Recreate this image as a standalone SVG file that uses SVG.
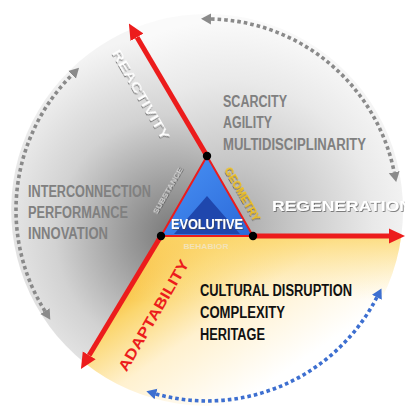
<svg xmlns="http://www.w3.org/2000/svg" width="405" height="407" viewBox="0 0 405 407">
<style>
.gt{font-family:"Liberation Sans Narrow","Liberation Sans",Arial,sans-serif;font-weight:bold;font-size:16px;fill:#808080}
.bt{font-family:"Liberation Sans Narrow","Liberation Sans",Arial,sans-serif;font-weight:bold;font-size:16px;fill:#111}
.red{stroke:#ec1c1c;stroke-width:5;fill:none}
.dotg{stroke:#8a8a8a;stroke-width:3.6;stroke-dasharray:3.6 3;fill:none}
.dotb{stroke:#3d6fd0;stroke-width:3.6;stroke-dasharray:3.6 3;fill:none}
.wl{font-family:"Liberation Sans",Arial,sans-serif;font-weight:bold;fill:#fff}
</style>
<defs>
<radialGradient id="gL" gradientUnits="userSpaceOnUse" cx="175" cy="235" r="200">
<stop offset="0" stop-color="#777"/><stop offset="0.25" stop-color="#9c9c9c"/><stop offset="0.6" stop-color="#d2d2d2"/><stop offset="1" stop-color="#f4f4f4"/>
</radialGradient>
<radialGradient id="gT" gradientUnits="userSpaceOnUse" cx="230" cy="225" r="205">
<stop offset="0" stop-color="#a8a8a8"/><stop offset="0.3" stop-color="#c6c6c6"/><stop offset="0.7" stop-color="#e9e9e9"/><stop offset="1" stop-color="#fafafa"/>
</radialGradient>
<linearGradient id="gY" gradientUnits="userSpaceOnUse" x1="165" y1="236" x2="265" y2="385">
<stop offset="0" stop-color="#f6ad10"/><stop offset="0.25" stop-color="#fbd66e"/><stop offset="0.55" stop-color="#fff1cf"/><stop offset="1" stop-color="#ffffff"/>
</linearGradient>
<linearGradient id="gY2" gradientUnits="userSpaceOnUse" x1="0" y1="236" x2="0" y2="300">
<stop offset="0" stop-color="#fcd870" stop-opacity="0.85"/><stop offset="1" stop-color="#fde8a8" stop-opacity="0"/>
</linearGradient>
<linearGradient id="gB" x1="0" y1="0" x2="1" y2="1">
<stop offset="0" stop-color="#4a94f6"/><stop offset="1" stop-color="#2b68d8"/>
</linearGradient>
<marker id="ar" markerUnits="userSpaceOnUse" viewBox="0 -8 16 16" refX="0" refY="0" markerWidth="16" markerHeight="16" orient="auto">
<path d="M0,-7.5 L16,0 L0,7.5 z" fill="#ec1c1c"/>
</marker>
<marker id="ag" markerUnits="userSpaceOnUse" viewBox="0 -6 10 12" refX="0" refY="0" markerWidth="10" markerHeight="12" orient="auto-start-reverse">
<path d="M0,-5.5 L10,0 L0,5.5 z" fill="#8a8a8a"/>
</marker>
<marker id="ab" markerUnits="userSpaceOnUse" viewBox="0 -6 10 12" refX="0" refY="0" markerWidth="10" markerHeight="12" orient="auto-start-reverse">
<path d="M0,-5.5 L10,0 L0,5.5 z" fill="#3d6fd0"/>
</marker>
<filter id="sh" x="-20%" y="-20%" width="140%" height="140%">
<feDropShadow dx="0.8" dy="0.8" stdDeviation="0.6" flood-color="#444" flood-opacity="0.8"/>
</filter>
</defs>

<g id="background">
<path d="M207,156 L132.9,28.6 A196,196 0 0 1 401.3,236 L253,236 Z" fill="url(#gT)"/>
<path d="M161,236 L84.7,363 A196,196 0 0 1 132.9,28.6 L207,156 Z" fill="url(#gL)"/>
<path d="M253,236 L401.3,236 A196,196 0 0 1 84.7,363 L161,236 Z" fill="url(#gY)"/>
<path d="M253,236 L401.3,236 A196,196 0 0 1 84.7,363 L161,236 Z" fill="url(#gY2)"/>
</g>

<g id="connectors">
<line class="red" x1="207" y1="156" x2="137" y2="37.2" marker-end="url(#ar)"/>
<line class="red" x1="253" y1="236" x2="389" y2="236" marker-end="url(#ar)"/>
<line class="red" x1="161" y1="236" x2="89.2" y2="355.3" marker-end="url(#ar)"/>
<path class="dotg" d="M211,19 A191,191 0 0 1 394.2,172.2" marker-start="url(#ag)" marker-end="url(#ag)"/>
<path class="dotg" d="M45,311.2 A191,191 0 0 1 72,74.9" marker-start="url(#ag)" marker-end="url(#ag)"/>
<path class="dotb" d="M376.9,297.3 A191,191 0 0 1 156,394" marker-start="url(#ab)" marker-end="url(#ab)"/>
</g>

<g id="evolutive">
<path d="M207,156 L253,236 L161,236 Z" fill="url(#gB)"/>
<path d="M207,196 L240,234 L174,234 Z" fill="#1f47ad"/>
<path d="M207,156 L253,236 L161,236 Z" fill="none" stroke="#ec1c1c" stroke-width="2"/>
<circle cx="207" cy="156" r="4.2" fill="#000"/>
<circle cx="161" cy="236" r="4.2" fill="#000"/>
<circle cx="253" cy="236" r="4.2" fill="#000"/>
<text class="wl" x="207" y="229" font-size="15" text-anchor="middle" textLength="72" lengthAdjust="spacingAndGlyphs" filter="url(#sh)">EVOLUTIVE</text>
<text x="0" y="0" transform="translate(170,192) rotate(-60)" font-family="Liberation Sans, Arial, sans-serif" font-weight="bold" font-size="8" fill="#d2d2d2" text-anchor="middle" textLength="52" lengthAdjust="spacingAndGlyphs" filter="url(#sh)">SUBSTANCE</text>
<text x="0" y="0" transform="translate(239,196) rotate(60)" font-family="Liberation Sans, Arial, sans-serif" font-weight="bold" font-size="10" fill="#f2c21a" text-anchor="middle" textLength="60" lengthAdjust="spacingAndGlyphs" filter="url(#sh)">GEOMETRY</text>
<text x="206" y="249" font-family="Liberation Sans, Arial, sans-serif" font-weight="bold" font-size="8" fill="#f3e3b8" text-anchor="middle" textLength="45" lengthAdjust="spacingAndGlyphs">BEHABIOR</text>
</g>

<g id="reactivity">
<text class="wl" x="0" y="0" transform="translate(137,97) rotate(60)" font-size="13" text-anchor="middle" textLength="102" lengthAdjust="spacingAndGlyphs" filter="url(#sh)">REACTIVITY</text>
</g>
<g id="regeneration">
<text class="wl" x="272" y="211" font-size="15" textLength="140" lengthAdjust="spacingAndGlyphs" filter="url(#sh)">REGENERATION</text>
</g>
<g id="adaptability">
<text x="0" y="0" transform="translate(158,318) rotate(-60)" font-family="Liberation Sans, Arial, sans-serif" font-weight="bold" font-size="15" fill="#ec1c1c" text-anchor="middle" textLength="126" lengthAdjust="spacingAndGlyphs">ADAPTABILITY</text>
</g>

<g id="top-right-list">
<text class="gt" x="223" y="107" textLength="64" lengthAdjust="spacingAndGlyphs">SCARCITY</text>
<text class="gt" x="223" y="128" textLength="49" lengthAdjust="spacingAndGlyphs">AGILITY</text>
<text class="gt" x="223" y="150" textLength="143" lengthAdjust="spacingAndGlyphs">MULTIDISCIPLINARITY</text>
</g>
<g id="left-list">
<text class="gt" x="28" y="197" textLength="123" lengthAdjust="spacingAndGlyphs">INTERCONNECTION</text>
<text class="gt" x="28" y="218" textLength="100" lengthAdjust="spacingAndGlyphs">PERFORMANCE</text>
<text class="gt" x="28" y="239" textLength="80" lengthAdjust="spacingAndGlyphs">INNOVATION</text>
</g>
<g id="bottom-right-list">
<text class="bt" x="200" y="296" textLength="152" lengthAdjust="spacingAndGlyphs">CULTURAL DISRUPTION</text>
<text class="bt" x="200" y="318" textLength="85" lengthAdjust="spacingAndGlyphs">COMPLEXITY</text>
<text class="bt" x="200" y="340" textLength="65" lengthAdjust="spacingAndGlyphs">HERITAGE</text>
</g>
</svg>
